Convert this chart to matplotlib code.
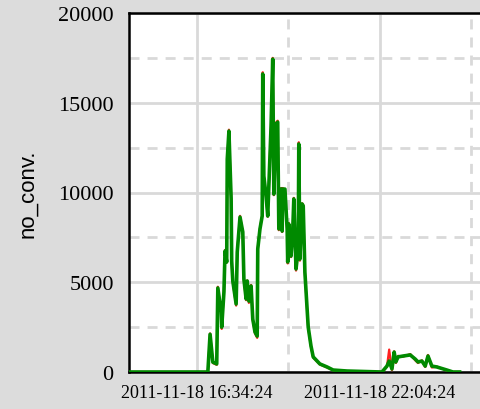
import numpy as np
import pandas as pd
import matplotlib
matplotlib.use("Agg")
import matplotlib.pyplot as plt
import matplotlib.dates as mdates
from matplotlib.ticker import FixedLocator, MultipleLocator

# sample times (HH:MM), 2011-11-18 unless before noon (next day)
times = ["14:33", "16:54", "16:58", "17:03", "17:10", "17:12", "17:18", "17:19", "17:23", "17:25",
         "17:28", "17:29", "17:32", "17:36", "17:37", "17:39", "17:45", "17:47", "17:52", "17:57",
         "17:59", "18:03", "18:05", "18:08", "18:12", "18:15", "18:19", "18:23", "18:24", "18:28",
         "18:32", "18:33", "18:35", "18:39", "18:42", "18:48", "18:51", "18:53", "18:57", "19:00",
         "19:02", "19:06", "19:08", "19:09", "19:13", "19:17", "19:18", "19:20", "19:24", "19:27",
         "19:29", "19:33", "19:37", "19:38", "19:40", "19:44", "19:46", "19:49", "19:53", "19:55",
         "20:00", "20:04", "20:16", "20:29", "20:40", "21:05", "22:08", "22:17", "22:21", "22:26",
         "22:30", "22:33", "22:37", "22:46", "22:59", "23:08", "23:13", "23:20", "23:26", "23:31",
         "23:38", "23:47", "00:05", "00:16", "00:28"]

green_vals = [0, 0, 2100, 550, 450, 4680, 3340, 2500, 4450, 6740,
              6130, 11860, 13420, 9640, 6180, 5070, 3790, 6680, 8630, 7800,
              5180, 4070, 5070, 3950, 4790, 2950, 2230, 2000, 6850, 7970,
              8690, 16600, 10920, 9800, 8690, 13700, 17430, 9910, 13810, 13920,
              7970, 10190, 7850, 10190, 10190, 7970, 6130, 8240, 6460, 7800,
              9640, 5740, 6850, 12700, 6290, 9360, 9250, 5570, 3510, 2500,
              1450, 840, 450, 280, 110, 55, 0, 330, 610, 170,
              1110, 560, 840, 890, 950, 720, 560, 610, 330, 890,
              330, 280, 110, 0, 0]

red_vals = [0, 0, 2150, 500, 400, 4750, 3300, 2400, 4500, 6800,
            6100, 11900, 13500, 9700, 6100, 5000, 3700, 6750, 8700, 7750,
            5100, 4000, 5100, 3850, 4850, 2900, 2150, 1900, 6900, 8000,
            8750, 16700, 10900, 9750, 8650, 13800, 17500, 9850, 13900, 14000,
            7900, 10250, 7800, 10250, 10150, 7900, 6050, 8300, 6400, 7850,
            9700, 5650, 6900, 12800, 6200, 9400, 9300, 5500, 3450, 2450,
            1400, 800, 420, 250, 100, 50, 0, 300, 1250, 100,
            1150, 500, 900, 850, 1000, 650, 500, 650, 280, 950,
            250, 300, 80, 0, 0]

major_ticks = ["2011-11-18 11:04:24", "2011-11-18 16:34:24", "2011-11-18 22:04:24", "2011-11-19 03:34:24"]
minor_ticks = ["2011-11-18 13:49:24", "2011-11-18 19:19:24", "2011-11-19 00:49:24"]


def to_dt(t):
    d = pd.Timestamp("2011-11-18 " + t)
    if d.hour < 12:
        d += pd.Timedelta(days=1)
    return d


x = [to_dt(t) for t in times]

fig = plt.figure(figsize=(4.81, 4.10), dpi=100, facecolor="#dcdcdc")
ax = fig.add_axes([129/481, 1-373/410, (481-129)/481, (373-14)/410])
ax.set_facecolor("white")

ax.plot(x, red_vals, color="#ff2020", lw=1.6, zorder=3)
ax.plot(x, green_vals, color="#008a00", lw=2.6, zorder=4)

ax.set_xlim(pd.Timestamp("2011-11-18 14:31:48"), pd.Timestamp("2011-11-19 01:06:36"))
ax.set_ylim(0, 20000)

ax.xaxis.set_major_locator(FixedLocator(mdates.date2num(pd.to_datetime(major_ticks))))
ax.xaxis.set_minor_locator(FixedLocator(mdates.date2num(pd.to_datetime(minor_ticks))))
ax.xaxis.set_major_formatter(mdates.DateFormatter("%Y-%m-%d %H:%M:%S"))
ax.yaxis.set_major_locator(MultipleLocator(5000))
ax.yaxis.set_minor_locator(MultipleLocator(2500))

ax.grid(which="major", color="#d9d9d9", lw=2, ls="-", zorder=0)
ax.grid(which="minor", color="#d9d9d9", lw=2, ls=(0, (3.6, 2.9)), zorder=0)
ax.set_axisbelow(True)

ax.tick_params(which="both", length=0)
ax.tick_params(axis="y", pad=11)
ax.tick_params(axis="x", pad=9)
for lab in ax.get_yticklabels():
    lab.set_fontfamily("Liberation Serif")
    lab.set_fontsize(16)
for lab in ax.get_xticklabels():
    lab.set_fontfamily("Liberation Serif")
    lab.set_fontsize(13)

for s in ["left", "top", "bottom"]:
    ax.spines[s].set_linewidth(1.8)
    ax.spines[s].set_color("black")
ax.spines["right"].set_visible(False)

ax.set_ylabel("no_conv.", fontfamily="Liberation Sans", fontsize=16, labelpad=14)

fig.savefig("out.png", dpi=100, facecolor=fig.get_facecolor())
